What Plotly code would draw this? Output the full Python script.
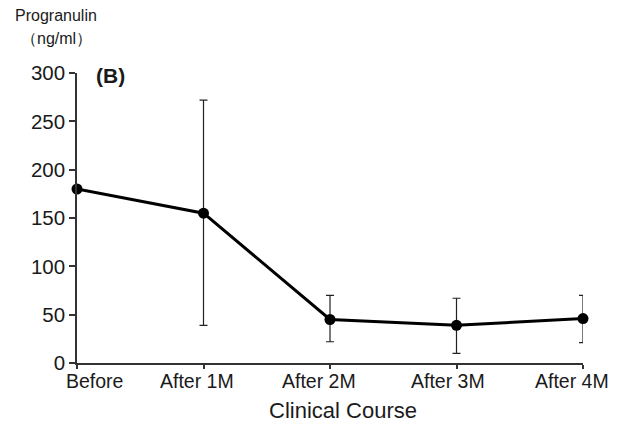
import plotly.graph_objects as go

categories = ["Before", "After 1M", "After 2M", "After 3M", "After 4M"]
means = [180, 155, 45, 39, 46]
upper = [180, 272, 70, 67, 70]
lower = [180, 39, 22, 10, 21]
y_ticks = [0, 50, 100, 150, 200, 250, 300]

x_pos = list(range(len(categories)))
err_plus = [u - m for u, m in zip(upper, means)]
err_minus = [m - l for m, l in zip(means, lower)]

FONT = "Liberation Sans, Arial, sans-serif"
TXT = "#1a1a1a"
PW, PH = 506, 290  # plot area size in px

# horizontal nudges of the category labels, as placed in the original figure
label_nudge = [17, -7, -11, -9, -11]

fig = go.Figure()
fig.add_trace(go.Scatter(
    x=x_pos, y=means, mode="markers",
    marker=dict(size=1, color="rgba(0,0,0,0)"),
    error_y=dict(type="data", array=err_plus, arrayminus=err_minus,
                 symmetric=False, color="#222", thickness=1.2, width=4),
    cliponaxis=True, showlegend=False, hoverinfo="skip",
))
fig.add_trace(go.Scatter(
    x=x_pos, y=means, mode="lines+markers",
    line=dict(color="#000", width=3),
    marker=dict(size=11, color="#000"),
    cliponaxis=False, showlegend=False,
))

annotations = [
    dict(text="Progranulin", xref="paper", yref="paper",
         x=-64/PW, y=1 + 57/PH, xanchor="left", yanchor="middle",
         showarrow=False, font=dict(size=16, color=TXT, family=FONT)),
    dict(text="（ng/ml）", xref="paper", yref="paper",
         x=-58/PW, y=1 + 35/PH, xanchor="left", yanchor="middle",
         showarrow=False, font=dict(size=16, color=TXT, family=FONT)),
    dict(text="<b>(B)</b>", xref="paper", yref="paper",
         x=17/PW, y=1 - 2/PH, xanchor="left", yanchor="middle",
         showarrow=False, font=dict(size=21, color=TXT, family=FONT)),
    dict(text="Clinical Course", xref="paper", yref="paper",
         x=(343 - 77)/PW, y=-(411 - 363)/PH, xanchor="center", yanchor="middle",
         showarrow=False, font=dict(size=22, color=TXT, family=FONT)),
]
for xp, lab, nd in zip(x_pos, categories, label_nudge):
    annotations.append(dict(
        text=lab, xref="x", yref="paper", x=xp, y=-(381 - 363)/PH,
        xanchor="center", yanchor="middle", xshift=nd, showarrow=False,
        font=dict(size=19.5, color=TXT, family=FONT)))

fig.update_layout(
    width=614, height=416,
    margin=dict(l=69, r=39, t=65, b=61),
    paper_bgcolor="white", plot_bgcolor="white",
    font=dict(family=FONT, color=TXT),
    xaxis=dict(range=[0, 4], tickvals=x_pos, showticklabels=False,
               showgrid=False, zeroline=False, showline=True,
               linecolor="#333", linewidth=1.5, ticks="outside",
               ticklen=4, tickcolor="#333", tickwidth=1.5),
    yaxis=dict(range=[0, 300], tickvals=y_ticks,
               showgrid=False, zeroline=False, showline=True,
               linecolor="#333", linewidth=1.5, ticks="outside",
               ticklen=6, tickcolor="#333", tickwidth=1.5,
               tickfont=dict(size=20.5, color=TXT, family=FONT)),
    annotations=annotations,
)

fig.write_html("out.html")
